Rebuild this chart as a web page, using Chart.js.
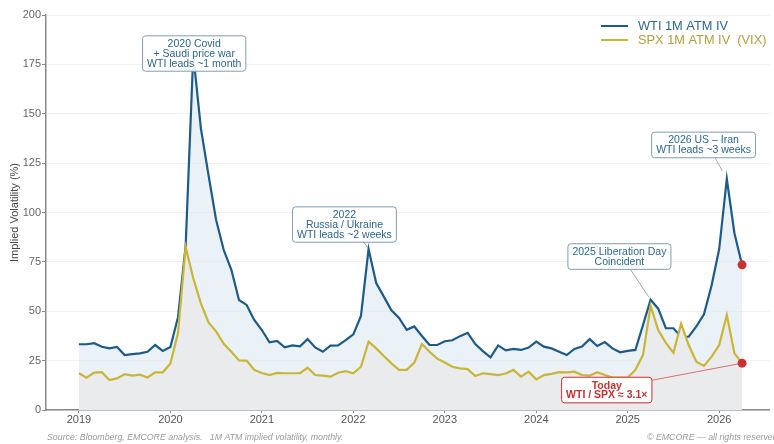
<!DOCTYPE html>
<html>
<head>
<meta charset="utf-8">
<script src="https://cdn.jsdelivr.net/npm/chart.js@4.4.1/dist/chart.umd.min.js"></script>
<style>
  html, body { margin: 0; padding: 0; background: #fff; }
  #wrap { width: 774px; height: 444px; position: relative; }
</style>
</head>
<body>
<div id="wrap"><canvas id="c" width="774" height="444"></canvas></div>
<script>
// Monthly series, first observation January 2019
const START_YEAR = 2019;

// WTI 1M ATM implied volatility (%)
const wtiIV = [
  33.3, 33.3, 33.8, 32.0, 31.2, 31.9, 27.8, 28.3, 28.7, 29.5, 32.9, 29.9,   // 2019
  31.9, 47.0, 83.0, 180.0, 142.6, 119.0, 96.2, 81.0, 71.0, 55.7, 53.2, 45.6, // 2020
  40.5, 34.3, 35.0, 31.7, 32.7, 32.2, 35.9, 31.7, 29.5, 32.6, 32.7, 35.4,   // 2021
  38.3, 47.6, 81.5, 64.3, 57.4, 50.5, 46.6, 40.6, 42.3, 37.5, 32.9, 32.9,   // 2022
  34.8, 35.3, 37.4, 39.1, 33.4, 29.8, 26.7, 32.7, 30.2, 30.9, 30.4, 31.6,   // 2023
  34.6, 32.1, 31.2, 29.5, 27.8, 30.9, 32.1, 35.9, 32.4, 34.4, 31.2, 29.2,   // 2024
  29.9, 30.4, 43.0, 55.8, 51.3, 41.4, 41.4, 37.1, 37.1, 42.3, 48.5, 63.0,   // 2025
  81.5, 117.0, 89.5, 73.5                                                   // 2026
];

// SPX 1M ATM implied volatility (VIX, %)
const spxIV = [
  18.6, 16.4, 18.9, 19.2, 15.2, 16.0, 18.2, 17.4, 17.9, 16.5, 19.1, 19.1,   // 2019
  23.6, 39.0, 82.5, 66.7, 54.0, 44.3, 39.8, 33.5, 29.5, 25.1, 25.0, 20.3,   // 2020
  18.7, 17.7, 18.8, 18.6, 18.6, 18.6, 21.4, 17.7, 17.4, 16.9, 18.9, 19.7,   // 2021
  18.6, 21.9, 34.6, 31.2, 27.3, 23.6, 20.3, 20.3, 24.0, 33.4, 29.5, 26.0,   // 2022
  24.0, 21.9, 21.1, 20.7, 17.2, 18.6, 18.2, 17.7, 18.5, 20.3, 16.9, 19.4,   // 2023
  15.5, 17.7, 18.3, 19.2, 19.1, 19.4, 17.7, 17.4, 19.1, 17.7, 16.4, 16.4,   // 2024
  16.4, 20.3, 27.8, 52.7, 40.5, 34.0, 29.0, 43.7, 32.9, 24.5, 22.3, 27.0,   // 2025
  32.9, 48.1, 28.7, 23.7                                                    // 2026
];

const yearTicks = [2019, 2020, 2021, 2022, 2023, 2024, 2025, 2026];
const yTickValues = [0, 25, 50, 75, 100, 125, 150, 175, 200];

const FONT = '"Liberation Sans", Arial, Helvetica, sans-serif';
const WTI_COLOR = '#1d5b88';
const SPX_COLOR = '#c9b637';
const RED = '#cc3030';

const monthX = i => START_YEAR + i / 12;
const toPoints = arr => arr.map((v, i) => ({ x: monthX(i), y: v }));
const lastIdx = wtiIV.length - 1;

// Call-out boxes, centred at (year, value) in data space
const callouts = [
  { lines: ['2020 Covid', '+ Saudi price war', 'WTI leads ~1 month'], at: [2020.26, 180.5] },
  { lines: ['2022', 'Russia / Ukraine', 'WTI leads ~2 weeks'], at: [2021.903, 93.9],
    series: wtiIV, target: 38, dx: 19.5, gap: 2 },
  { lines: ['2025 Liberation Day', 'Coincident'], at: [2024.909, 77.7],
    series: wtiIV, target: 75, dx: 11, gap: 3 },
  { lines: ['2026 US \u2013 Iran', 'WTI leads ~3 weeks'], at: [2025.829, 134.2],
    series: wtiIV, target: 85, dx: 11.5, gap: 9 },
  { lines: ['Today', 'WTI / SPX \u2248 3.1\u00d7'], at: [2024.771, 10.1], red: true,
    series: spxIV, target: lastIdx, side: 'right', gap: 4 }
];

function roundRect(ctx, x, y, w, h, r) {
  ctx.beginPath();
  ctx.moveTo(x + r, y);
  ctx.lineTo(x + w - r, y);
  ctx.quadraticCurveTo(x + w, y, x + w, y + r);
  ctx.lineTo(x + w, y + h - r);
  ctx.quadraticCurveTo(x + w, y + h, x + w - r, y + h);
  ctx.lineTo(x + r, y + h);
  ctx.quadraticCurveTo(x, y + h, x, y + h - r);
  ctx.lineTo(x, y + r);
  ctx.quadraticCurveTo(x, y, x + r, y);
  ctx.closePath();
}

const calloutPlugin = {
  id: 'callouts',
  afterDatasetsDraw(chart) {
    const ctx = chart.ctx, xs = chart.scales.x, ys = chart.scales.y;
    const lineH = 9.8, padX = 4.5, padY = 3;
    callouts.forEach(c => {
      ctx.save();
      ctx.font = (c.red ? 'bold ' : '') + '10.5px ' + FONT;
      const w = Math.max(...c.lines.map(l => ctx.measureText(l).width)) + padX * 2;
      const h = c.lines.length * lineH + padY * 2;
      const cx = xs.getPixelForValue(c.at[0]);
      const cy = ys.getPixelForValue(c.at[1]);
      const left = cx - w / 2, top = cy - h / 2;

      if (c.target != null) {
        const px = xs.getPixelForValue(monthX(c.target));
        const py = ys.getPixelForValue(c.series[c.target]);
        let sx, sy;
        if (c.side === 'right') { sx = left + w; sy = top + 3; }
        else { sx = cx + c.dx; sy = top + h; }
        const dx = px - sx, dy = py - sy, len = Math.hypot(dx, dy);
        ctx.beginPath();
        ctx.moveTo(sx, sy);
        ctx.lineTo(px - dx / len * c.gap, py - dy / len * c.gap);
        ctx.strokeStyle = c.red ? '#d9706e' : '#9aa9b4';
        ctx.lineWidth = 1;
        ctx.stroke();
      }

      roundRect(ctx, left, top, w, h, 3);
      ctx.fillStyle = 'rgba(255,255,255,0.95)';
      ctx.fill();
      ctx.strokeStyle = c.red ? RED : '#7e9db5';
      ctx.lineWidth = 1;
      ctx.stroke();

      ctx.fillStyle = c.red ? RED : '#2c6791';
      ctx.textAlign = 'center';
      ctx.textBaseline = 'middle';
      c.lines.forEach((l, k) => {
        ctx.fillText(l, cx, top + padY + lineH * (k + 0.5) + 0.5);
      });
      ctx.restore();
    });
  }
};

const framePlugin = {
  id: 'frame',
  afterDraw(chart) {
    const ctx = chart.ctx;
    ctx.save();
    // legend
    const items = [
      { label: 'WTI 1M ATM IV', color: WTI_COLOR, text: '#2e6b97', y: 26 },
      { label: 'SPX 1M ATM IV  (VIX)', color: SPX_COLOR, text: '#b5a03a', y: 40 }
    ];
    ctx.font = '12.8px ' + FONT;
    ctx.textBaseline = 'middle';
    ctx.textAlign = 'left';
    items.forEach(it => {
      ctx.beginPath();
      ctx.moveTo(601, it.y);
      ctx.lineTo(628, it.y);
      ctx.strokeStyle = it.color;
      ctx.lineWidth = 2;
      ctx.stroke();
      ctx.fillStyle = it.text;
      ctx.fillText(it.label, 638, it.y + 0.5);
    });
    // footer
    ctx.font = 'italic 8.8px ' + FONT;
    ctx.fillStyle = '#9a9a9a';
    ctx.fillText('Source: Bloomberg, EMCORE analysis.   1M ATM implied volatility, monthly.', 47, 438);
    ctx.fillText('\u00a9 EMCORE \u2014 all rights reserved', 647, 438);
    ctx.restore();
  }
};

Chart.defaults.font.family = FONT;

new Chart(document.getElementById('c'), {
  type: 'line',
  data: {
    datasets: [
      {
        label: 'SPX 1M ATM IV  (VIX)',
        data: toPoints(spxIV),
        borderColor: SPX_COLOR,
        borderWidth: 2.2,
        backgroundColor: 'rgb(234,235,236)',
        fill: 'origin',
        tension: 0,
        pointRadius: ctx => ctx.dataIndex === lastIdx ? 4.5 : 0,
        pointBackgroundColor: RED,
        pointBorderWidth: 0,
        order: 0
      },
      {
        label: 'WTI 1M ATM IV',
        data: toPoints(wtiIV),
        borderColor: WTI_COLOR,
        borderWidth: 2.2,
        backgroundColor: 'rgba(220,231,242,0.6)',
        fill: 'origin',
        tension: 0,
        pointRadius: ctx => ctx.dataIndex === lastIdx ? 4.5 : 0,
        pointBackgroundColor: RED,
        pointBorderWidth: 0,
        order: 1
      }
    ]
  },
  options: {
    responsive: false,
    animation: false,
    devicePixelRatio: 1,
    layout: { padding: { top: 15, right: 4, bottom: 18, left: 0 } },
    plugins: {
      legend: { display: false },
      tooltip: { enabled: false }
    },
    scales: {
      x: {
        type: 'linear',
        min: 2018.64,
        max: 2026.55,
        afterBuildTicks: s => { s.ticks = yearTicks.map(v => ({ value: v })); },
        afterFit: s => { s.height = 16; },
        ticks: { color: '#555', font: { size: 11 }, padding: 0, maxRotation: 0,
                 callback: v => String(v) },
        grid: { drawOnChartArea: false, color: '#888', tickLength: 3 },
        border: { color: '#8a8a8a', width: 1.5 }
      },
      y: {
        min: 0,
        max: 200,
        afterBuildTicks: s => { s.ticks = yTickValues.map(v => ({ value: v })); },
        afterFit: s => { s.width = 46; },
        ticks: { color: '#666', font: { size: 11 }, padding: 1 },
        grid: { color: '#f0f0f0', tickColor: '#888', tickLength: 4, lineWidth: 1 },
        border: { color: '#8a8a8a', width: 1.5 },
        title: { display: true, text: 'Implied Volatility (%)', color: '#444',
                 font: { size: 11 }, padding: { top: 8, bottom: 0 } }
      }
    }
  },
  plugins: [calloutPlugin, framePlugin]
});
</script>
</body>
</html>
